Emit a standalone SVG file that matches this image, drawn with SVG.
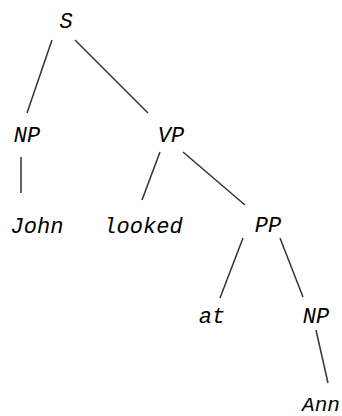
<svg xmlns="http://www.w3.org/2000/svg" width="342" height="416" viewBox="0 0 342 416">
<style>
text{font-family:"Liberation Mono","Courier New",monospace;font-style:italic;font-size:22px;fill:#000;text-anchor:middle}
.e{stroke:#333;stroke-width:1.5;fill:none}
</style>
<rect width="342" height="416" fill="#fff"/>
<g id="connectors">
<line class="e" x1="52" y1="40" x2="27" y2="113"/>
<line class="e" x1="75" y1="40" x2="148" y2="113"/>
<line class="e" x1="21" y1="157" x2="21" y2="193"/>
<line class="e" x1="160" y1="152" x2="142" y2="200"/>
<line class="e" x1="183" y1="152" x2="245" y2="205"/>
<line class="e" x1="243" y1="238" x2="220" y2="298"/>
<line class="e" x1="280" y1="238" x2="303" y2="297"/>
<line class="e" x1="316" y1="330" x2="328" y2="383"/>
</g>
<g id="S"><text x="66" y="28">S</text></g>
<g id="NP1"><text x="27" y="142">NP</text></g>
<g id="VP"><text x="171" y="142">VP</text></g>
<g id="John"><text x="37" y="233">John</text></g>
<g id="looked"><text x="143" y="233">looked</text></g>
<g id="PP"><text x="268" y="232">PP</text></g>
<g id="at"><text x="212" y="323">at</text></g>
<g id="NP2"><text x="316" y="323">NP</text></g>
<g id="Ann"><text x="321" y="411" style="font-size:21px">Ann</text></g>
</svg>
